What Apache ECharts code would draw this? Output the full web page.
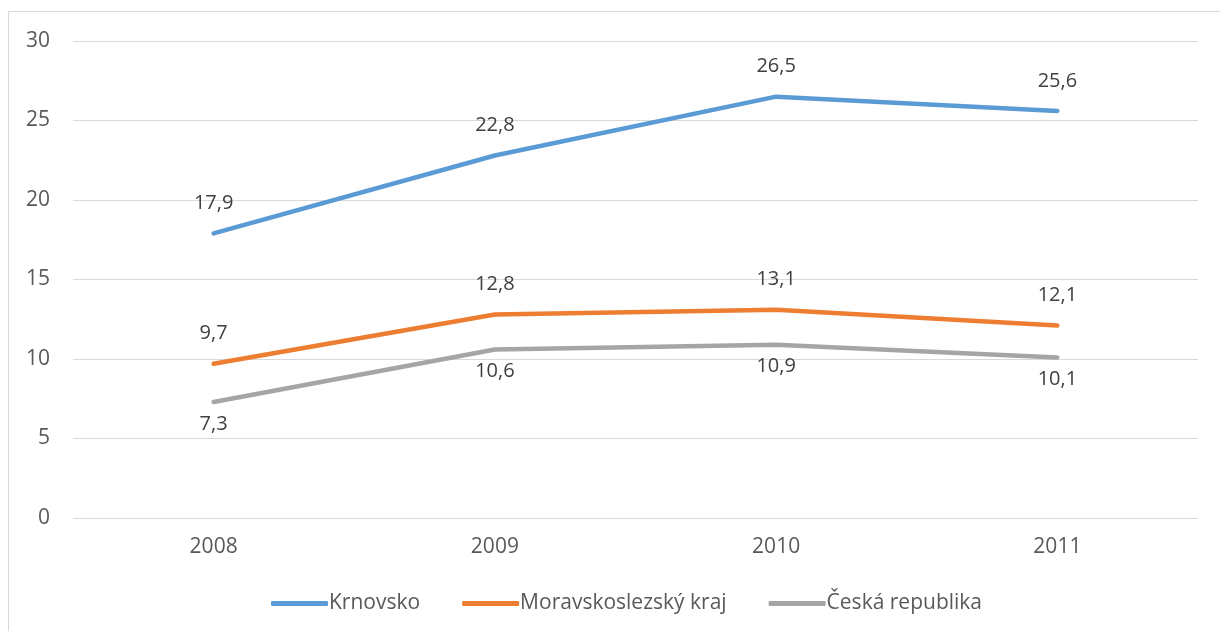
<!DOCTYPE html>
<html>
<head>
<meta charset="UTF-8">
<title></title>
<script src="https://cdn.jsdelivr.net/npm/echarts@6/dist/echarts.min.js"></script>
<style>
* { padding: 0; margin: 0; }
body { background: #fff; }
#frame { position: absolute; left: 8px; top: 11px; width: 1300px; height: 700px; border-left: 1px solid #d9d9d9; border-top: 1px solid #d9d9d9; }
#main { position: absolute; left: 0; top: 0; width: 1220px; height: 631px; }
</style>
</head>
<body>
<div id="frame"></div>
<div id="main"></div>
<script>
var years = ['2008', '2009', '2010', '2011'];
var krnovsko = [17.9, 22.8, 26.5, 25.6];
var msk = [9.7, 12.8, 13.1, 12.1];
var cr = [7.3, 10.6, 10.9, 10.1];

var font = '"Open Sans", sans-serif';
var chart = echarts.init(document.getElementById('main'));

function fmt(p) { return String(p.value).replace('.', ','); }

function line(name, data, color, pos) {
  return {
    name: name,
    type: 'line',
    data: data,
    symbol: 'circle',
    symbolSize: 0.1,
    showSymbol: true,
    lineStyle: { color: color, width: 4.5, cap: 'round' },
    itemStyle: { color: color },
    label: {
      show: true,
      position: pos,
      distance: pos === 'top' ? 20 : 12,
      formatter: fmt,
      color: '#404040',
      fontSize: 20,
      fontFamily: font
    }
  };
}

chart.setOption({
  animation: false,
  grid: { left: 73, right: 22, top: 41, bottom: 113 },
  legend: {
    bottom: 12,
    left: 266,
    itemWidth: 57,
    itemHeight: 5,
    itemGap: 42,
    icon: 'roundRect',
    textStyle: { color: '#595959', fontSize: 21, fontFamily: font, padding: [0, 0, 0, -4] },
    data: ['Krnovsko', 'Moravskoslezský kraj', 'Česká republika']
  },
  xAxis: {
    type: 'category',
    data: years,
    axisLine: { show: false },
    axisTick: { show: false },
    axisLabel: { color: '#595959', fontSize: 21, fontFamily: font, margin: 19 }
  },
  yAxis: {
    type: 'value',
    min: 0,
    max: 30,
    interval: 5,
    axisLabel: { color: '#595959', fontSize: 21, fontFamily: font, margin: 23 },
    splitLine: { lineStyle: { color: '#d9d9d9', width: 1 } }
  },
  series: [
    line('Krnovsko', krnovsko, '#5b9bd5', 'top'),
    line('Moravskoslezský kraj', msk, '#ed7d31', 'top'),
    line('Česká republika', cr, '#a5a5a5', 'bottom')
  ]
});
</script>
</body>
</html>
